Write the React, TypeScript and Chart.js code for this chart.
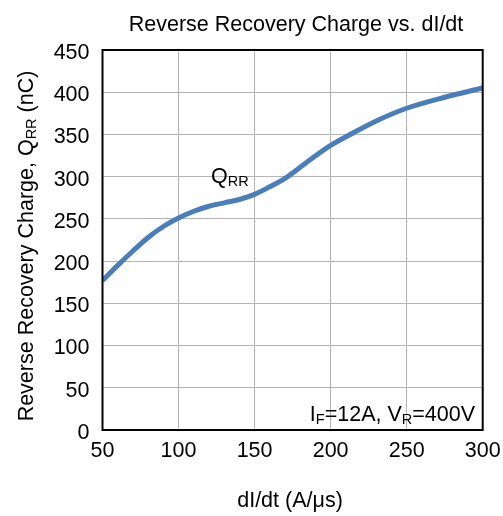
import React, { useEffect, useRef } from "react";
import { Chart, registerables } from "chart.js";

Chart.register(...registerables);

const didtValues = [50, 60, 70, 80, 90, 100, 110, 120, 130, 140, 150, 160, 170, 185, 200, 215, 230, 250, 275, 300];
const qrrValues = [177, 195, 212, 228, 241, 251, 259, 265, 269, 273, 279, 288, 298, 318, 337, 352, 366, 381, 394, 405];
const xTicks = [50, 100, 150, 200, 250, 300];
const yTicks = [0, 50, 100, 150, 200, 250, 300, 350, 400, 450];

const chartTitle = "Reverse Recovery Charge vs. dI/dt";
const xAxisTitle = "dI/dt (A/μs)";
const yAxisTitle = [
  { t: "Reverse Recovery Charge, Q", sub: false },
  { t: "RR", sub: true },
  { t: " (nC)", sub: false },
];
const curveLabel = [
  { t: "Q", sub: false },
  { t: "RR", sub: true },
];
const conditionLabel = [
  { t: "I", sub: false },
  { t: "F", sub: true },
  { t: "=12A, V", sub: false },
  { t: "R", sub: true },
  { t: "=400V", sub: false },
];

const FAMILY = "'Liberation Sans', Arial, sans-serif";
const FS = 21.5;

type Seg = { t: string; sub: boolean };

function drawRich(
  ctx: CanvasRenderingContext2D,
  segs: Seg[],
  x: number,
  y: number,
  align: "left" | "center" | "right",
  size: number,
  subSize: number,
  subShift: number
) {
  const mainFont = `${size}px ${FAMILY}`;
  const subFont = `${subSize}px ${FAMILY}`;
  let total = 0;
  const widths = segs.map((s) => {
    ctx.font = s.sub ? subFont : mainFont;
    const w = ctx.measureText(s.t).width;
    total += w;
    return w;
  });
  let cx = align === "left" ? x : align === "center" ? x - total / 2 : x - total;
  ctx.textAlign = "left";
  ctx.textBaseline = "alphabetic";
  segs.forEach((s, i) => {
    ctx.font = s.sub ? subFont : mainFont;
    ctx.fillText(s.t, cx, s.sub ? y + subShift : y);
    cx += widths[i];
  });
}

const decorPlugin = {
  id: "decor",
  afterDraw(chart: any) {
    const ctx: CanvasRenderingContext2D = chart.ctx;
    const a = chart.chartArea;
    ctx.save();
    ctx.strokeStyle = "#000";
    ctx.lineWidth = 2;
    ctx.strokeRect(a.left, a.top, a.right - a.left, a.bottom - a.top);
    ctx.fillStyle = "#000";
    ctx.font = `${FS}px ${FAMILY}`;
    ctx.textAlign = "center";
    ctx.textBaseline = "alphabetic";
    ctx.fillText(chartTitle, 296, 31);
    ctx.fillText(xAxisTitle, 290, 507);
    ctx.save();
    ctx.translate(32.5, 246);
    ctx.rotate(-Math.PI / 2);
    drawRich(ctx, yAxisTitle, 0, 0, "center", FS, 14.5, 3);
    ctx.restore();
    drawRich(ctx, curveLabel, 211, 183, "left", FS, 14.5, 3);
    drawRich(ctx, conditionLabel, 475, 421, "right", FS, 14.5, 3);
    ctx.restore();
  },
};

export default function App() {
  const ref = useRef<HTMLCanvasElement | null>(null);
  useEffect(() => {
    if (!ref.current) return;
    const chart = new Chart(ref.current, {
      type: "line",
      data: {
        datasets: [
          {
            data: didtValues.map((x, i) => ({ x, y: qrrValues[i] })),
            borderColor: "#4a7ebb",
            borderWidth: 5,
            pointRadius: 0,
            cubicInterpolationMode: "monotone",
            fill: false,
          },
        ],
      },
      options: {
        animation: false,
        responsive: false,
        maintainAspectRatio: false,
        layout: { padding: { left: 0, top: 50, right: 20.3, bottom: 0 } },
        plugins: { legend: { display: false }, tooltip: { enabled: false }, title: { display: false } },
        scales: {
          x: {
            type: "linear",
            min: 50,
            max: 300,
            afterBuildTicks: (s: any) => {
              s.ticks = xTicks.map((v) => ({ value: v }));
            },
            afterFit: (s: any) => {
              s.height = 86;
              s.paddingLeft = 0;
              s.paddingRight = 0;
            },
            grid: { color: "#b4b4b4", lineWidth: 1, drawTicks: false },
            border: { display: false },
            ticks: {
              color: "#000",
              font: { family: FAMILY, size: FS },
              padding: 8,
              maxRotation: 0,
              autoSkip: false,
            },
          },
          y: {
            type: "linear",
            min: 0,
            max: 450,
            afterBuildTicks: (s: any) => {
              s.ticks = yTicks.map((v) => ({ value: v }));
            },
            afterFit: (s: any) => {
              s.width = 102.5;
              s.paddingTop = 0;
              s.paddingBottom = 0;
            },
            grid: { color: "#b4b4b4", lineWidth: 1, drawTicks: false },
            border: { display: false },
            ticks: {
              color: "#000",
              font: { family: FAMILY, size: FS },
              padding: 13,
              labelOffset: 3,
              autoSkip: false,
            },
          },
        },
      },
      plugins: [decorPlugin],
    } as any);
    return () => chart.destroy();
  }, []);
  return (
    <div style={{ position: "absolute", left: 0, top: 0, width: 503, height: 516, background: "#fff" }}>
      <canvas ref={ref} width={503} height={516} style={{ display: "block" }} />
    </div>
  );
}
